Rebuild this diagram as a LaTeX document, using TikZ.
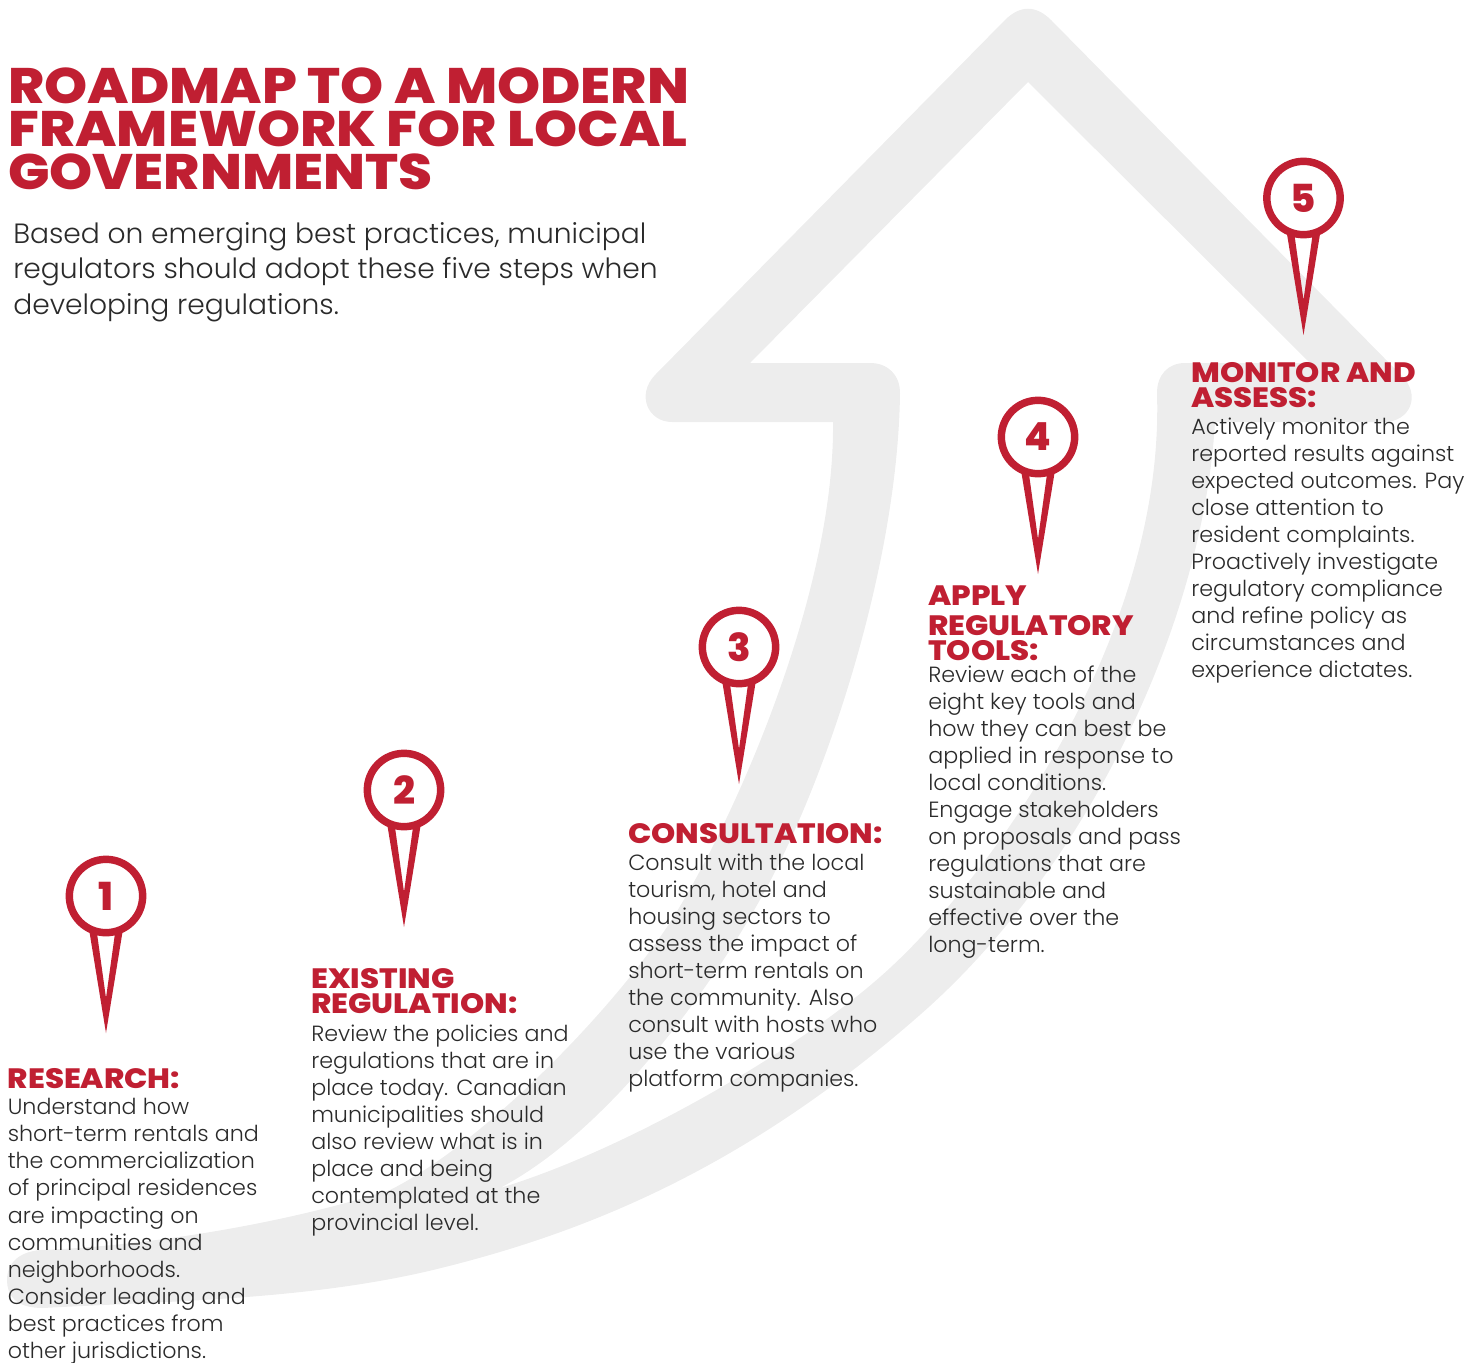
\documentclass[tikz,border=0pt]{standalone}
\usepackage{fontspec}
\setmainfont{Poppins}
\newfontfamily\bodyf[FakeStretch=1.01]{Poppins Light}
\newfontfamily\headf[FakeStretch=1.1]{Poppins ExtraBold}
\newfontfamily\numf{Poppins ExtraBold}
\definecolor{rrd}{HTML}{C01F32}
\definecolor{bandgray}{HTML}{EDEDED}
\definecolor{ink}{HTML}{2A2A2A}
\tikzset{
  titletext/.style={anchor=north west,inner sep=0pt,align=left,text=rrd,font=\headf\fontsize{37.4}{32.25}\selectfont},
  introtext/.style={anchor=north west,inner sep=0pt,align=left,text=ink,font=\bodyf\fontsize{20.9}{26.6}\selectfont},
  headtext/.style={anchor=north west,inner sep=0pt,align=left,text=rrd,font=\headf\fontsize{21}{18.75}\selectfont},
  bodytext/.style={anchor=north west,inner sep=0pt,align=left,text=ink,font=\bodyf\fontsize{16.5}{20.3}\selectfont},
  pinhead/.style={circle,draw=rrd,fill=white,line width=5.6pt,minimum size=55pt,inner sep=0pt,text=rrd,font=\numf\fontsize{29}{29}\selectfont},
  pinstem/.style={fill=rrd,even odd rule},
}
\newcommand{\firstln}[1]{\rule{0pt}{#1pt}}
\newcommand{\pinat}[3]{%
  \fill[pinstem] (#1-17.5,#2+30) -- (#1+17.5,#2+30) -- (#1,#2+137) -- cycle
     (#1-10,#2+30) -- (#1+10,#2+30) -- (#1,#2+102) -- cycle;
  \node[pinhead] (pin#3) at (#1,#2) {#3};
}
\begin{document}
\begin{tikzpicture}[x=0.75pt,y=-0.75pt]
\useasboundingbox (0,0) rectangle (1478,1363);
% arrow band
\fill[bandgray,even odd rule]
  (40,1250) .. controls (130,1247) and (270,1228) .. (390,1190)
  .. controls (480,1145) and (606,1018) .. (667,927)
  .. controls (727,836) and (835,600) .. (833,422)
  -- (672,422) .. controls (648,422) and (636,395) .. (655,375)
  -- (1005,20) .. controls (1020,5) and (1036,5) .. (1051,20)
  -- (1401,375) .. controls (1422,395) and (1410,422) .. (1384,422)
  -- (1215,422)
  .. controls (1203,625) and (1086,869) .. (921,1014)
  .. controls (748,1166) and (590,1232) .. (433,1270)
  .. controls (307,1300) and (170,1301) .. (43,1308)
  .. controls (15,1308) and (7,1295) .. (7,1280) .. controls (7,1262) and (20,1252) .. (40,1250) -- cycle
  (500,1188) .. controls (620,1152) and (790,1056) .. (880,977)
  .. controls (985,885) and (1165,640) .. (1157,393)
  .. controls (1157,375) and (1168,363) .. (1185,363)
  -- (1310,363) -- (1028,82) -- (750,363) -- (870,363)
  .. controls (888,363) and (900,375) .. (900,393)
  .. controls (898,560) and (830,770) .. (767,887)
  .. controls (715,984) and (610,1130) .. (500,1188) -- cycle;
% title
\node[titletext] (title) at (8,103-36) {\firstln{27}ROADMAP TO A MODERN\\FRAMEWORK FOR LOCAL\\GOVERNMENTS};
\node[introtext] (intro) at (13,243-26.67) {\firstln{20}Based on emerging best practices, municipal\\regulators should adopt these five steps when\\developing regulations.};
% pins
\pinat{106}{896}{1}
\pinat{404}{790}{2}
\pinat{739}{647}{3}
\pinat{1038}{437}{4}
\pinat{1303.5}{198}{5}
% step 1
\node[headtext] (h1) at (7.5,1088-24) {\firstln{18}RESEARCH:};
\node[bodytext] (b1) at (7.5,1114.5-20) {\firstln{15}Understand how\\short-term rentals and\\the commercialization\\of principal residences\\are impacting on\\communities and\\neighborhoods.\\Consider leading and\\best practices from\\other jurisdictions.};
% step 2
\node[headtext] (h2) at (311,988-24) {\firstln{18}EXISTING\\REGULATION:};
\node[bodytext] (b2) at (311,1041-20) {\firstln{15}Review the policies and\\regulations that are in\\place today. Canadian\\municipalities should\\also review what is in\\place and being\\contemplated at the\\provincial level.};
% step 3
\node[headtext] (h3) at (628,843-24) {\firstln{18}CONSULTATION:};
\node[bodytext] (b3) at (628,870-20) {\firstln{15}Consult with the local\\tourism, hotel and\\housing sectors to\\assess the impact of\\short-term rentals on\\the community. Also\\consult with hosts who\\use the various\\platform companies.};
% step 4
\node[headtext] (h4) at (928,605-24) {\firstln{18}APPLY\\[3.75pt]REGULATORY\\TOOLS:};
\node[bodytext] (b4) at (928,682-20) {\firstln{15}Review each of the\\eight key tools and\\how they can best be\\applied in response to\\local conditions.\\Engage stakeholders\\on proposals and pass\\regulations that are\\sustainable and\\effective over the\\long-term.};
% step 5
\node[headtext] (h5) at (1191,382-24) {\firstln{18}MONITOR AND\\ASSESS:};
\node[bodytext] (b5) at (1191,434-20) {\firstln{15}Actively monitor the\\reported results against\\expected outcomes. Pay\\close attention to\\resident complaints.\\Proactively investigate\\regulatory compliance\\and refine policy as\\circumstances and\\experience dictates.};
\end{tikzpicture}
\end{document}
